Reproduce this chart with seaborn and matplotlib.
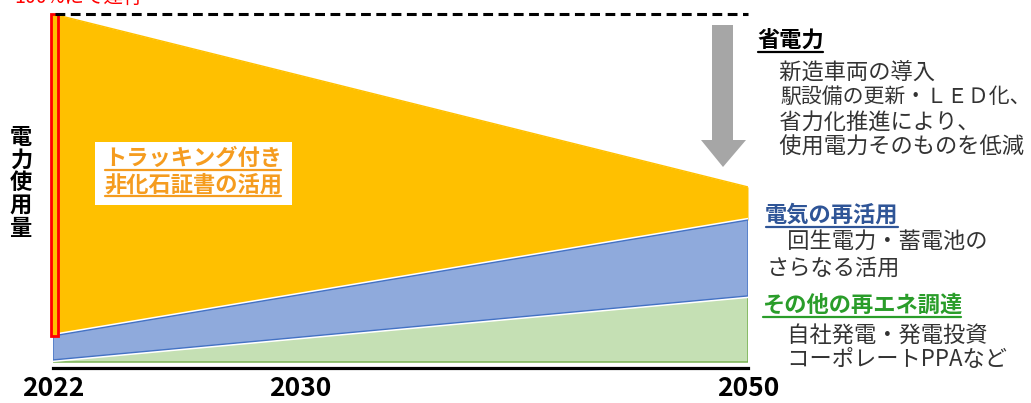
import numpy as np
import pandas as pd
import matplotlib
matplotlib.use("Agg")
import matplotlib.pyplot as plt
import matplotlib.patheffects as pe
from matplotlib.transforms import IdentityTransform
from matplotlib.lines import Line2D
from matplotlib.patches import Polygon, Rectangle
import seaborn as sns

# ---------------- data (schematic timeline 0 -> 1) ----------------
timeline = [0.0, 1.0]                      # 2022 ... 2050
other_renewables = [0.6, 19.0]             # その他の再エネ調達 (green layer)
regen_power = [6.9, 21.8]                  # 電気の再活用 (blue layer)
certificates = [92.5, 9.5]                 # 非化石証書 (orange layer)
current_usage = 100.0                      # 2022 usage level (dashed line)
tick_labels = ["2022", "2030", "2050"]
tick_pos = [0.0, 0.355, 1.0]

df = pd.DataFrame({"t": timeline,
                   "green": other_renewables,
                   "blue": regen_power,
                   "orange": certificates})
df["green_top"] = df["green"]
df["blue_top"] = df["green_top"] + df["blue"]
df["orange_top"] = df["blue_top"] + df["orange"]

# ---------------- figure ----------------
sns.set_theme(style="white")
plt.rcParams["font.family"] = ["Noto Sans CJK JP", "DejaVu Sans"]

W, H = 1031, 403
fig = plt.figure(figsize=(W / 100, H / 100), dpi=100)
fig.patch.set_facecolor("white")

ax = fig.add_axes([53 / W, (H - 368) / H, 695 / W, 354 / H])
ax.set_xlim(0, 1)
ax.set_ylim(-1.72, 100)
ax.set_facecolor("white")

ORANGE = "#FFC000"
BLUE = "#8FAADC"
BLUE_E = "#4472C4"
GREEN = "#C5E0B4"
GREEN_E = "#70AD47"

white_stroke = [pe.Stroke(linewidth=3.2, foreground="white"), pe.Normal()]

# orange layer
ax.fill_between(df["t"], df["blue_top"], df["orange_top"], color=ORANGE,
                lw=0, zorder=1)
# green layer
g = ax.fill_between(df["t"], 0, df["green_top"], facecolor=GREEN,
                    edgecolor=GREEN_E, lw=1.0, zorder=2)
g.set_path_effects(white_stroke)
# blue layer
b = ax.fill_between(df["t"], df["green_top"], df["blue_top"], facecolor=BLUE,
                    edgecolor=BLUE_E, lw=1.0, zorder=3)
b.set_path_effects(white_stroke)

# boundary of orange top via seaborn
sns.lineplot(x=df["t"], y=df["orange_top"], ax=ax, color=ORANGE, lw=1,
             zorder=1, legend=False)

# current usage bar (red outline)
ax.bar([0.0022], [current_usage - df["blue_top"].iloc[0]],
       bottom=[df["blue_top"].iloc[0]], width=0.0101, color=ORANGE,
       edgecolor="#FF0000", linewidth=2.0, zorder=4, clip_on=False)

# dashed reference line at current usage
ax.plot([0.003, 1.0], [current_usage, current_usage], color="black", lw=2.2,
        dashes=(3.2, 1.8), zorder=5, clip_on=False, solid_capstyle="butt",
        dash_capstyle="butt")

# axes styling
for s in ["left", "right", "top"]:
    ax.spines[s].set_visible(False)
ax.spines["bottom"].set_color("black")
ax.spines["bottom"].set_linewidth(2.3)
ax.set_yticks([])
ax.set_xticks(tick_pos)
ax.set_xticklabels(tick_labels, fontsize=19, fontweight="bold", color="black")
ax.tick_params(axis="x", length=0, pad=5)
ax.set_xlabel("")
ax.set_ylabel("")

# ---------------- annotations (pixel coords from top-left) ----------------
ID = IdentityTransform()


def ptext(x, y, s, size=16, weight="normal", color="#333333", ha="left",
          va="center"):
    return fig.text(x, H - y, s, transform=ID, fontsize=size,
                    fontweight=weight, color=color, ha=ha, va=va, zorder=10)


def underline(t, y, color, lw=1.6):
    fig.canvas.draw()
    bb = t.get_window_extent(fig.canvas.get_renderer())
    fig.add_artist(Line2D([bb.x0 + 1, bb.x1 - 1], [H - y, H - y],
                          transform=ID, color=color, lw=lw, zorder=11))


# red text top-left (partially cut off in the reference)
ptext(143, 3, "100%にて運行", size=14, color="#FF0000", ha="right",
      va="baseline")

# y-label (vertical)
for i, ch in enumerate("電力使用量"):
    ptext(21, 137 + i * 22.8, ch, size=16, weight="bold", color="black",
          ha="center")

# white box with orange text
fig.add_artist(Rectangle((95, H - 205), 197, 63, transform=ID,
                         facecolor="white", edgecolor="none", zorder=9))
OR_T = "#F59C1F"
t1 = ptext(193, 158, "トラッキング付き", size=16, weight="bold", color=OR_T,
           ha="center")
t2 = ptext(193, 185, "非化石証書の活用", size=16, weight="bold", color=OR_T,
           ha="center")
underline(t1, 170, OR_T)
underline(t2, 196, OR_T)

# gray arrow
arrow_pts = [(712, 25), (733, 25), (733, 140), (746, 140), (723, 167),
             (701, 140), (712, 140)]
fig.add_artist(Polygon([(x, H - y) for x, y in arrow_pts], closed=True,
                       transform=ID, facecolor="#A6A6A6", edgecolor="none",
                       zorder=8))

# right-hand texts
BODY = "#333333"
h1 = ptext(757, 40, "省電力", weight="bold", color="black")
underline(h1, 52, "black")
ptext(757, 72, "　新造車両の導入", color=BODY)
ptext(780, 97, "駅設備の更新・ＬＥＤ化、", size=15.0, color=BODY)
ptext(757, 122, "　省力化推進により、", color=BODY)
ptext(757, 147, "　使用電力そのものを低減", color=BODY)

BT = "#2F5597"
h2 = ptext(765, 215, "電気の再活用", weight="bold", color=BT)
underline(h2, 227, BT)
ptext(765, 241, "　回生電力・蓄電池の", color=BODY)
ptext(767, 268, "さらなる活用", color=BODY)

GT = "#2A9D2A"
h3 = ptext(762, 305, "その他の再エネ調達", weight="bold", color=GT)
underline(h3, 317, GT)
ptext(765, 335, "　自社発電・発電投資", color=BODY)
ptext(765, 359, "　コーポレートPPAなど", color=BODY)

fig.savefig("out.png", dpi=100, facecolor="white")
